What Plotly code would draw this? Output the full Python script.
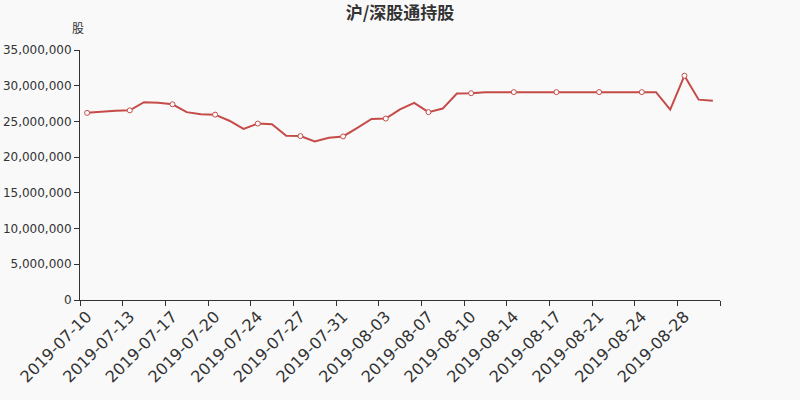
import datetime as dt
import plotly.graph_objects as go

# Categories: 45 dates from 2019-07-10 (Mondays not included)
start = dt.date(2019, 7, 10)
dates = []
d = start
while len(dates) < 45:
    if d.weekday() != 0:
        dates.append(d.strftime("%Y-%m-%d"))
    d += dt.timedelta(days=1)

holdings = [
    26200000, 26400000, 26500000, 26550000, 27700000, 27600000, 27400000,
    26300000, 26000000, 25950000, 25100000, 23950000, 24700000, 24600000,
    23000000, 22950000, 22200000, 22700000, 22900000, 24100000, 25350000,
    25400000, 26700000, 27600000, 26300000, 26800000, 28900000, 28950000,
    29100000, 29100000, 29100000, 29100000, 29100000, 29100000, 29100000,
    29100000, 29100000, 29100000, 29100000, 29100000, 29100000, 26650000,
    31400000, 28050000, 27900000,
]

title_text = "沪/深股通持股"
unit_text = "股"
line_color = "#c54b48"

fig = go.Figure()
fig.add_trace(go.Scatter(
    x=dates, y=holdings, mode="lines",
    line=dict(color=line_color, width=2),
    hoverinfo="x+y", showlegend=False,
))
fig.add_trace(go.Scatter(
    x=dates[::3], y=holdings[::3], mode="markers",
    marker=dict(size=5, color="#ffffff", line=dict(color=line_color, width=1)),
    hoverinfo="skip", showlegend=False,
))

fig.update_layout(
    width=800, height=400,
    paper_bgcolor="#f9f9f9", plot_bgcolor="#f9f9f9",
    margin=dict(l=80, r=80, t=50, b=100),
    font=dict(family="DejaVu Sans, Noto Sans CJK SC", color="#333333", size=12),
    title=dict(text="<b>" + title_text + "</b>", x=0.5, xanchor="center",
               yref="container", y=0.967, yanchor="middle",
               font=dict(family="Noto Sans CJK SC, DejaVu Sans", size=17, color="#333333")),
    annotations=[dict(text=unit_text, xref="paper", yref="paper", x=-0.003, y=1.088,
                      xanchor="center", yanchor="middle", showarrow=False,
                      font=dict(family="Noto Sans CJK SC", size=12, color="#333333"))],
)
fig.update_xaxes(
    type="category", range=[-0.5, len(dates) - 0.5], automargin=False,
    tickmode="linear", tick0=0, dtick=3, tickson="boundaries",
    tickangle=-45, tickfont=dict(size=16, color="#333333"),
    showline=True, linecolor="#333333", linewidth=1,
    ticks="outside", ticklen=5, tickcolor="#333333",
    showgrid=False, zeroline=False,
)
fig.update_yaxes(
    range=[0, 35000000], tickmode="linear", tick0=0, dtick=5000000, automargin=False,
    tickformat=",d", tickfont=dict(size=12, color="#333333"),
    showline=True, linecolor="#333333", linewidth=1,
    ticks="outside", ticklen=5, tickcolor="#333333",
    showgrid=False, zeroline=False,
)

fig.write_html(
    "out.html",
    config={"displayModeBar": False},
    post_script="document.body.style.margin='0';document.body.style.background='#f9f9f9';",
)
